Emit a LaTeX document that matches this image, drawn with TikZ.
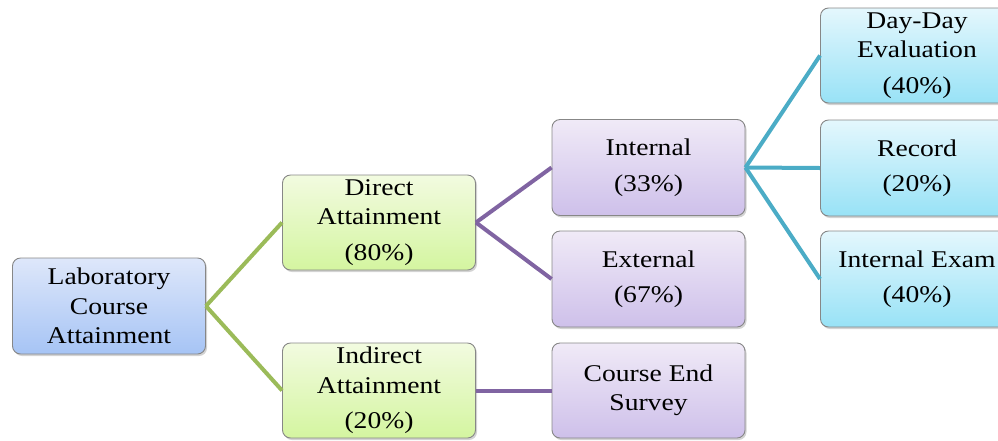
\documentclass[tikz,border=0pt]{standalone}
\usepackage{fontspec}
\newfontfamily\boxfont[FakeStretch=1.15]{Liberation Serif}
\usetikzlibrary{shadows}
\definecolor{bluetop}{RGB}{222,231,250}
\definecolor{bluebot}{RGB}{166,196,245}
\definecolor{greentop}{RGB}{242,251,224}
\definecolor{greenbot}{RGB}{212,245,160}
\definecolor{purtop}{RGB}{240,234,247}
\definecolor{purbot}{RGB}{206,192,234}
\definecolor{cyantop}{RGB}{228,247,253}
\definecolor{cyanbot}{RGB}{152,226,246}
\definecolor{lgreen}{RGB}{155,187,89}
\definecolor{lpurple}{RGB}{128,100,162}
\definecolor{lteal}{RGB}{75,172,198}
\definecolor{bordergray}{RGB}{135,135,135}
\tikzset{
  box/.style={draw=bordergray, line width=0.9pt, rounded corners=8pt,
    minimum width=193pt, minimum height=96pt, inner sep=0pt, align=center,
    font=\boxfont\fontsize{24}{29.5}\selectfont,
    drop shadow={shadow xshift=1.5pt, shadow yshift=-2pt, opacity=0.35}},
  bluebox/.style={box, top color=bluetop, bottom color=bluebot},
  greenbox/.style={box, top color=greentop, bottom color=greenbot},
  purbox/.style={box, top color=purtop, bottom color=purbot},
  cyanbox/.style={box, top color=cyantop, bottom color=cyanbot},
  conn/.style={line width=4pt},
}
\begin{document}
\begin{tikzpicture}[x=1pt,y=-1pt]
\useasboundingbox (0,0) rectangle (998,440);
\clip (0,0) rectangle (998,440);
\node[bluebox] (lab) at (109,306) {Laboratory\\Course\\Attainment};
\node[greenbox, minimum height=95pt] (direct) at (379,222.5) {Direct\\Attainment\\[6pt](80\%)};
\node[greenbox, minimum height=95pt] (indirect) at (379,390.5) {Indirect\\Attainment\\[6pt](20\%)};
\node[purbox] (internal) at (648.5,167.5) {Internal\\[6pt](33\%)};
\node[purbox] (external) at (648.5,279) {External\\[6pt](67\%)};
\node[purbox, minimum height=95pt] (survey) at (648.5,390.5) {Course End\\Survey};
\node[cyanbox, minimum height=95pt] (day) at (917,55.5) {Day-Day\\Evaluation\\[6pt](40\%)};
\node[cyanbox] (record) at (917,168) {Record\\[6pt](20\%)};
\node[cyanbox] (exam) at (917,279) {Internal Exam\\[6pt](40\%)};
\draw[conn, lgreen] (lab.east) -- (direct.west);
\draw[conn, lgreen] (lab.east) -- (indirect.west);
\draw[conn, lpurple] (direct.east) -- (internal.west);
\draw[conn, lpurple] (direct.east) -- (external.west);
\draw[conn, lpurple] (indirect.east) -- (survey.west);
\draw[conn, lteal] (internal.east) -- (day.west);
\draw[conn, lteal] (internal.east) -- (record.west);
\draw[conn, lteal] (internal.east) -- (exam.west);
\end{tikzpicture}
\end{document}
